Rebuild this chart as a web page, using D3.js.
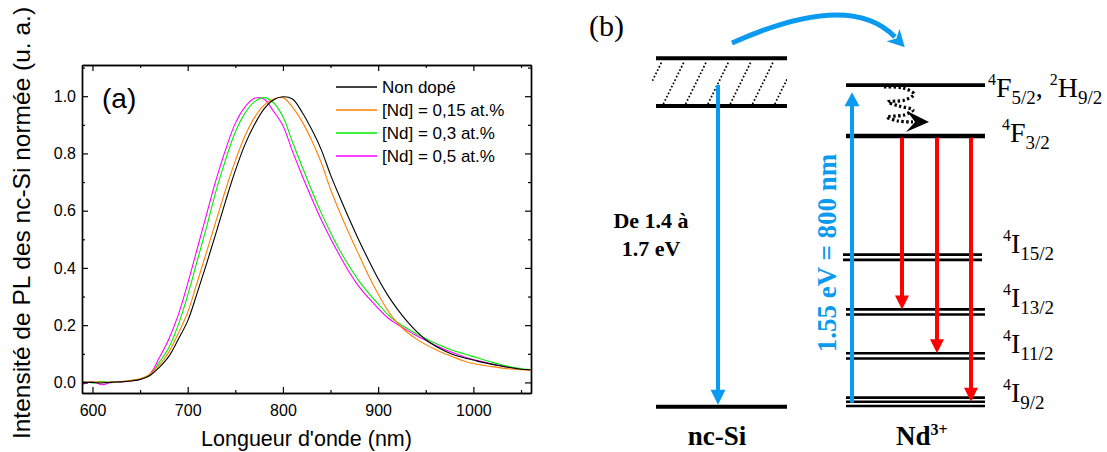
<!DOCTYPE html>
<html><head><meta charset="utf-8">
<script src="https://cdn.jsdelivr.net/npm/d3@7"></script>
<style>html,body{margin:0;padding:0;background:#fff;}svg{display:block}</style>
</head><body>
<svg id="c" width="1107" height="452"></svg>
<script>
// ---------- DATA (panel a) ----------
const wavelengths = [590,600,610,620,630,640,650,660,670,680,690,700,710,720,730,740,750,760,770,780,790,800,810,820,830,840,850,860,870,880,890,900,910,920,930,940,950,960,970,980,990,1000,1010,1020,1030,1040,1050,1060];
const seriesNonDope = [0.0,0.0,-0.002,0.001,0.002,0.005,0.01,0.023,0.052,0.09,0.15,0.215,0.313,0.417,0.525,0.636,0.74,0.83,0.90,0.955,0.987,0.998,0.99,0.945,0.885,0.815,0.725,0.645,0.568,0.495,0.427,0.362,0.305,0.257,0.215,0.179,0.149,0.127,0.11,0.096,0.086,0.078,0.07,0.063,0.057,0.051,0.046,0.044];
const seriesNd015 = [0.0,0.002,0.0,0.001,0.003,0.007,0.013,0.028,0.06,0.105,0.17,0.245,0.35,0.458,0.567,0.675,0.775,0.86,0.925,0.968,0.99,0.995,0.962,0.912,0.847,0.77,0.675,0.592,0.516,0.444,0.373,0.309,0.252,0.208,0.176,0.152,0.132,0.115,0.1,0.087,0.075,0.066,0.06,0.055,0.05,0.047,0.044,0.042];
const seriesNd03 = [0.003,-0.002,0.004,-0.001,0.003,0.006,0.012,0.025,0.07,0.12,0.2,0.305,0.425,0.545,0.672,0.78,0.875,0.94,0.98,0.995,0.978,0.928,0.84,0.755,0.673,0.594,0.524,0.46,0.404,0.354,0.312,0.274,0.238,0.21,0.189,0.17,0.153,0.137,0.123,0.11,0.1,0.09,0.08,0.07,0.061,0.054,0.048,0.045];
const seriesNd05 = [-0.006,0.002,-0.008,0.0,0.002,0.005,0.01,0.028,0.085,0.15,0.235,0.345,0.467,0.59,0.71,0.815,0.905,0.962,0.993,0.99,0.948,0.897,0.808,0.724,0.645,0.57,0.503,0.441,0.383,0.334,0.295,0.259,0.226,0.203,0.183,0.164,0.147,0.13,0.115,0.102,0.09,0.08,0.072,0.064,0.057,0.051,0.046,0.044];
const seriesNames = ["Non dopé","[Nd] = 0,15 at.%","[Nd] = 0,3 at.%","[Nd] = 0,5 at.%"];
const seriesColors = ["#000000","#ff8000","#00ee00","#ff00ff"];
const xMajorTicks = [600,700,800,900,1000];
const xMinorTicks = [650,750,850,950,1050];
const yMajorTicks = [0,0.2,0.4,0.6,0.8,1.0];
const yMinorTicks = [0.1,0.3,0.5,0.7,0.9,1.1];
const xDomain = [589,1060.5];
const yDomain = [-0.037,1.109];

// ---------- DATA (panel b, schematic energy units) ----------
const ncSiLevels = [0, 86.3, 100];            // valence edge, CB bottom, CB top
const ndLevelPos = [92.3, 77.7, 42.9, 27.2, 14.6, 1.4];
const ndLevelLines = [1, 2, 2, 2, 2, 3];
const ndLevelMain = ["F", "F", "I", "I", "I", "I"];
const ndLevelSub = ["5/2", "3/2", "15/2", "13/2", "11/2", "9/2"];
const ndRedTargets = [3, 4, 5];               // emission 4F3/2 -> 4I13/2, 4I11/2, 4I9/2

const svg = d3.select("#c");
const SANS = "'Liberation Sans', Arial, sans-serif";
const SERIF = "'Liberation Serif', 'Times New Roman', serif";

// ================= PANEL (a) =================
const X0 = 82, X1 = 531, Y0 = 65, Y1 = 393;
const x = d3.scaleLinear().domain(xDomain).range([X0, X1]);
const y = d3.scaleLinear().domain(yDomain).range([Y1, Y0]);

svg.append("clipPath").attr("id","clipA").append("rect")
  .attr("x",X0).attr("y",Y0).attr("width",X1-X0).attr("height",Y1-Y0);

const allSeries = [seriesNd05, seriesNd03, seriesNd015, seriesNonDope];
const allColors = [seriesColors[3], seriesColors[2], seriesColors[1], seriesColors[0]];
const line = d3.line().x((d,i)=>x(wavelengths[i])).y(d=>y(d)).curve(d3.curveCatmullRom.alpha(0.5));
const gCurves = svg.append("g").attr("clip-path","url(#clipA)");
allSeries.forEach((s,k)=>{
  gCurves.append("path").datum(s).attr("d",line)
    .attr("fill","none").attr("stroke",allColors[k]).attr("stroke-width",1.1);
});

function styleAxis(g){
  g.selectAll("path.domain").attr("stroke","#000").attr("stroke-width",1.4);
  g.selectAll(".tick line").attr("stroke","#000").attr("stroke-width",1.2);
  g.selectAll("text").attr("font-family",SANS).attr("font-size",16).attr("fill","#000");
}
// bottom
svg.append("g").attr("transform",`translate(0,${Y1})`)
  .call(d3.axisBottom(x).tickValues(xMajorTicks).tickSizeInner(-6).tickSizeOuter(0).tickPadding(12).tickFormat(d3.format("d")))
  .call(styleAxis);
svg.append("g").attr("transform",`translate(0,${Y1})`)
  .call(d3.axisBottom(x).tickValues(xMinorTicks).tickSizeInner(-3).tickSizeOuter(0).tickFormat(""))
  .call(styleAxis);
// top
svg.append("g").attr("transform",`translate(0,${Y0})`)
  .call(d3.axisTop(x).tickValues(xMajorTicks).tickSizeInner(-6).tickSizeOuter(0).tickFormat(""))
  .call(styleAxis);
svg.append("g").attr("transform",`translate(0,${Y0})`)
  .call(d3.axisTop(x).tickValues(xMinorTicks).tickSizeInner(-3).tickSizeOuter(0).tickFormat(""))
  .call(styleAxis);
// left
svg.append("g").attr("transform",`translate(${X0},0)`)
  .call(d3.axisLeft(y).tickValues(yMajorTicks).tickSizeInner(-6).tickSizeOuter(0).tickPadding(6).tickFormat(d3.format(".1f")))
  .call(styleAxis);
svg.append("g").attr("transform",`translate(${X0},0)`)
  .call(d3.axisLeft(y).tickValues(yMinorTicks).tickSizeInner(-3).tickSizeOuter(0).tickFormat(""))
  .call(styleAxis);
// right
svg.append("g").attr("transform",`translate(${X1},0)`)
  .call(d3.axisRight(y).tickValues(yMajorTicks).tickSizeInner(-6).tickSizeOuter(0).tickFormat(""))
  .call(styleAxis);
svg.append("g").attr("transform",`translate(${X1},0)`)
  .call(d3.axisRight(y).tickValues(yMinorTicks).tickSizeInner(-3).tickSizeOuter(0).tickFormat(""))
  .call(styleAxis);

svg.append("text").attr("x",(X0+X1)/2).attr("y",446).attr("text-anchor","middle")
  .attr("font-family",SANS).attr("font-size",21.5).text("Longueur d'onde (nm)");
svg.append("text").attr("transform","translate(30,223) rotate(-90)").attr("text-anchor","middle")
  .attr("font-family",SANS).attr("font-size",24.5).text("Intensité de PL des nc-Si normée (u. a.)");
svg.append("text").attr("x",102).attr("y",108).attr("font-family",SANS).attr("font-size",28).text("(a)");

// legend
const leg = svg.append("g");
seriesNames.forEach((n,i)=>{
  const cy = 87 + i*23;
  leg.append("line").attr("x1",336).attr("x2",377).attr("y1",cy).attr("y2",cy)
    .attr("stroke",seriesColors[i]).attr("stroke-width",1.3);
  leg.append("text").attr("x",382).attr("y",cy+6).attr("font-family",SANS).attr("font-size",17).text(n);
});

// ================= PANEL (b) =================
const yE = d3.scaleLinear().domain([0,100]).range([406.7, 58.3]);
const BLUE = "#0a9af0", RED = "#ff0000";
const NC0 = 656, NC1 = 787, ND0 = 846, ND1 = 985;
const gb = svg.append("g");

gb.append("text").attr("x",589).attr("y",36).attr("font-family",SERIF).attr("font-size",30).text("(b)");

// nc-Si levels
ncSiLevels.forEach(v=>{
  gb.append("line").attr("x1",NC0).attr("x2",NC1).attr("y1",yE(v)).attr("y2",yE(v))
    .attr("stroke","#000").attr("stroke-width",4);
});
// hatching inside conduction band
gb.append("clipPath").attr("id","clipH").append("rect")
  .attr("x",652).attr("y",yE(ncSiLevels[2])+2).attr("width",135).attr("height",yE(ncSiLevels[1])-yE(ncSiLevels[2])-4);
const gh = gb.append("g").attr("clip-path","url(#clipH)");
const hatchBottoms = [641, 663.3, 685.6, 707.9, 730.2, 752.5, 774.8, 797.1];
hatchBottoms.forEach(b=>{
  gh.append("line").attr("x1",b).attr("y1",yE(ncSiLevels[1])-2).attr("x2",b+21).attr("y2",yE(ncSiLevels[2])+3)
    .attr("stroke","#000").attr("stroke-width",1.7).attr("stroke-dasharray","1.7,2");
});

// Nd levels
ndLevelPos.forEach((v,i)=>{
  const n = ndLevelLines[i];
  const sp = n===1 ? 0 : (n===3 ? 4.2 : (i===1 ? 2 : 5.2));
  for(let k=0;k<n;k++){
    const off = (k-(n-1)/2)*sp;
    const xs = i===2 ? -3 : 0;
    gb.append("line").attr("x1",ND0+xs).attr("x2",ND1+xs).attr("y1",yE(v)+off).attr("y2",yE(v)+off)
      .attr("stroke","#000").attr("stroke-width",n===1?3.6:2.6);
  }
});

function vArrow(xp, yFrom, yTo, color, w, hl, hw){
  const dir = yTo > yFrom ? 1 : -1;
  gb.append("line").attr("x1",xp).attr("x2",xp).attr("y1",yFrom).attr("y2",yTo - dir*hl*0.8)
    .attr("stroke",color).attr("stroke-width",w);
  gb.append("path").attr("d",`M${xp},${yTo} L${xp-hw},${yTo-dir*hl} L${xp+hw},${yTo-dir*hl} Z`).attr("fill",color);
}
// blue down arrow (nc-Si emission)
vArrow(718, 85, yE(ncSiLevels[0])-2, BLUE, 4, 15, 7.5);
// blue up arrow (Nd absorption)
vArrow(852, yE(ndLevelPos[5])+1, yE(ndLevelPos[0])+7, BLUE, 4, 14, 7.5);
// red emission arrows
const redX = [902, 937, 971];
ndRedTargets.forEach((t,i)=>{
  const top = yE(ndLevelPos[1])+1.5;
  const tgt = yE(ndLevelPos[t]) - (ndLevelLines[t]===3 ? 0 : 2.5);
  vArrow(redX[i], top, tgt, RED, 4, 14, 7);
});

// curved transfer arrow
const cp = d3.path();
cp.moveTo(732,43); cp.quadraticCurveTo(850,-10,895,37);
gb.append("path").attr("d",cp.toString()).attr("fill","none").attr("stroke",BLUE).attr("stroke-width",5);
{
  const ux=0.692, uy=0.722, px=-uy, py=ux, ex=893, ey=35;
  const tip=[ex+ux*17, ey+uy*17], a=[ex+px*9, ey+py*9], b=[ex-px*9, ey-py*9], m=[ex+ux*5, ey+uy*5];
  gb.append("path").attr("d",`M${tip} L${a} L${m} L${b} Z`).attr("fill",BLUE);
}

// dotted non-radiative relaxation
const relaxPts = [[884,87],[903,88],[914,94],[905,100],[888,102],[899,106],[913,110],[904,115],[887,117],[898,121],[913,122]];
gb.append("path").attr("d",d3.line().curve(d3.curveCatmullRom)(relaxPts))
  .attr("fill","none").attr("stroke","#000").attr("stroke-width",3.2).attr("stroke-dasharray","2.4,2.4");
gb.append("path").attr("d","M929,122 L907,111 L915,122 L906,132 Z").attr("fill","#000");

// level labels
const labelX = [988, 1002, 1003, 1003, 1003, 1003];
const labelBase = [96.7, 142, 253.3, 307.3, 352.7, 402];
ndLevelPos.forEach((v,i)=>{
  const t = gb.append("text").attr("x",labelX[i]).attr("y",labelBase[i]).attr("font-family",SERIF).attr("font-size",28);
  t.append("tspan").attr("font-size",16).attr("dy",-12).text("4");
  t.append("tspan").attr("dy",12).text(ndLevelMain[i]);
  t.append("tspan").attr("font-size",19).attr("dy",7).text(ndLevelSub[i]);
  if(i===0){
    t.append("tspan").attr("dy",-7).text(", ");
    t.append("tspan").attr("font-size",16).attr("dy",-12).text("2");
    t.append("tspan").attr("dy",12).text("H");
    t.append("tspan").attr("font-size",19).attr("dy",7).text("9/2");
  }
});

// texts
gb.append("text").attr("x",651).attr("y",228).attr("text-anchor","middle").attr("font-family",SERIF)
  .attr("font-weight","bold").attr("font-size",22).text("De 1.4 à");
gb.append("text").attr("x",651).attr("y",256).attr("text-anchor","middle").attr("font-family",SERIF)
  .attr("font-weight","bold").attr("font-size",22).text("1.7 eV");
gb.append("text").attr("transform","translate(836,253) rotate(-90)").attr("text-anchor","middle")
  .attr("font-family",SERIF).attr("font-weight","bold").attr("font-size",27).attr("fill",BLUE).text("1.55 eV = 800 nm");
gb.append("text").attr("x",717).attr("y",445).attr("text-anchor","middle").attr("font-family",SERIF)
  .attr("font-weight","bold").attr("font-size",27).text("nc-Si");
const nd = gb.append("text").attr("x",896).attr("y",445).attr("font-family",SERIF).attr("font-weight","bold").attr("font-size",27);
nd.append("tspan").text("Nd");
nd.append("tspan").attr("font-size",16).attr("dy",-10).text("3+");
</script>
</body></html>
